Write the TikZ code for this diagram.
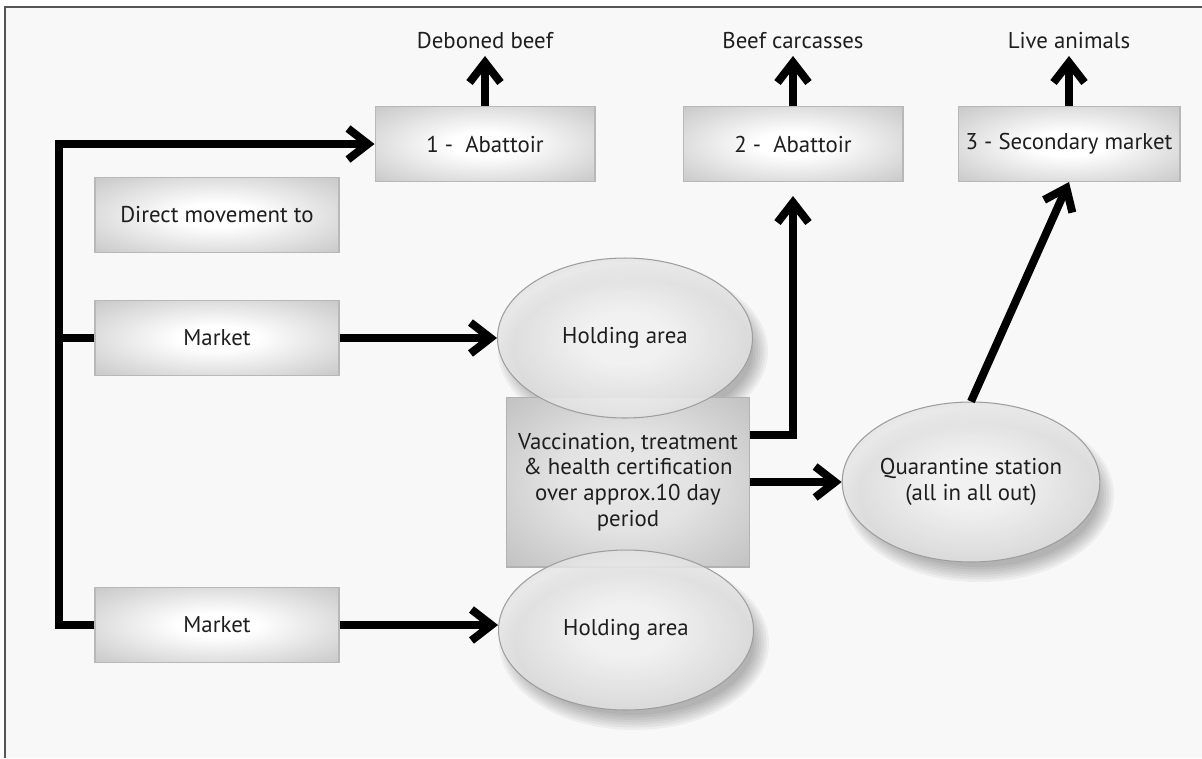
\documentclass[tikz,border=0pt]{standalone}
\usepackage{fontspec}
\setmainfont{PT Sans}
\usepackage{tikz}
\usetikzlibrary{positioning,arrows.meta,shapes.geometric,calc}
\definecolor{PageBg}{HTML}{F8F8F8}
\definecolor{FrameGray}{HTML}{555555}
\definecolor{TextDark}{HTML}{1E1E1E}

\pgfdeclareradialshading{boxglow}{\pgfpointorigin}{color(0bp)=(white);
  color(8bp)=(white); color(50bp)=(black!33); color(71bp)=(black!45)}
\pgfdeclareradialshading{careglow}{\pgfpointorigin}{color(0bp)=(black!9);
  color(14bp)=(black!11); color(50bp)=(black!33); color(71bp)=(black!42)}
\pgfdeclareradialshading{penglow}{\pgfpointorigin}{color(0bp)=(white);
  color(8bp)=(white); color(50bp)=(black!27); color(71bp)=(black!32)}

\tikzset{
  stagebox/.style={draw=black!28, line width=0.6pt, shading=boxglow,
    minimum width=4.4cm, minimum height=1.5cm,
    text=TextDark, font=\fontsize{13}{15}\selectfont},
  carebox/.style={draw=black!30, line width=0.6pt, shading=careglow,
    minimum width=4.86cm, minimum height=3.4cm,
    align=center, text=TextDark, font=\fontsize{13}{14.6}\selectfont},
  pen/.style={ellipse, draw=black!38, line width=0.6pt, shading=penglow,
    fill opacity=0.82, text opacity=1,
    minimum width=5.1cm, minimum height=3.2cm, inner sep=0pt,
    align=center, text=TextDark, font=\fontsize{13}{15}\selectfont},
  outlabel/.style={anchor=south, inner sep=4pt, text=TextDark,
    font=\fontsize{13}{15}\selectfont},
  flow/.style={line width=0.16cm, line join=miter,
    -{Straight Barb[length=0.4cm, width=0.62cm]}},
  trunkline/.style={line width=0.16cm, line join=miter}
}

\begin{document}
\begin{tikzpicture}[x=0.02cm, y=-0.02cm]
  \useasboundingbox (0,0) rectangle (1202,758);
  \fill[white] (0,0) rectangle (1202,758);
  \fill[PageBg] (5,7) rectangle (1202,758);
  \draw[FrameGray, line width=0.9pt] (5,758) -- (5,7) -- (1202,7);

  % destinations
  \node[stagebox] (abat1) at (485,144) {1 -~~Abattoir};
  \node[stagebox] (abat2) at (793,144) {2 -~~Abattoir};
  \node[stagebox, minimum width=4.44cm] (secmkt) at (1069,144) {3 - Secondary market};
  \node[outlabel] (deboned) at ([yshift=1cm]abat1.north) {Deboned beef};
  \node[outlabel] (carcass) at ([yshift=1cm]abat2.north) {Beef carcasses};
  \node[outlabel] (live) at ([yshift=1cm]secmkt.north) {Live animals};

  % markets
  \node[stagebox, minimum width=4.88cm] (direct) at (217,215) {Direct movement to};
  \node[stagebox, minimum width=4.88cm] (mkt1) at (217,338) {Market};
  \node[stagebox, minimum width=4.88cm] (mkt2) at (217,625) {Market};

  % soft shadows under the ellipses
  \foreach \cx/\cy in {625/338, 626/630, 971/482}
    \foreach \g in {0,...,6}
      \fill[black, opacity=0.045] (\cx+8,\cy+13) ellipse ({120+2.5*\g} and {72+2.5*\g});

  \node[carebox] (vacc) at (628,482) {Vaccination, treatment\\ \& health certification\\ over approx.10 day\\ period};
  \node[pen] (hold1) at (625,338) {Holding area};
  \node[pen] (hold2) at (626,630) {Holding area};
  \node[pen] (quar) at (971,482) {Quarantine station\\ (all in all out)};

  % connectors
  \coordinate (trunk) at (59,625);
  \draw[flow] (mkt2.west) -- (trunk) |- (abat1.west);
  \draw[trunkline] (mkt1.west) -- (mkt1.west -| trunk);
  \draw[flow] (mkt1.east) -- (hold1.west);
  \draw[flow] (mkt2.east) -- (mkt2.east -| hold2.west);
  \draw[flow] ([yshift=0.94cm]vacc.east) -| ([yshift=-0.28cm]abat2.south);
  \draw[flow] (vacc.east) -- (quar.west);
  \draw[flow] (quar.north) -- (secmkt.south);
  \draw[flow] (abat1.north) -- (deboned.south);
  \draw[flow] (abat2.north) -- (carcass.south);
  \draw[flow] (secmkt.north) -- (live.south);
\end{tikzpicture}
\end{document}
